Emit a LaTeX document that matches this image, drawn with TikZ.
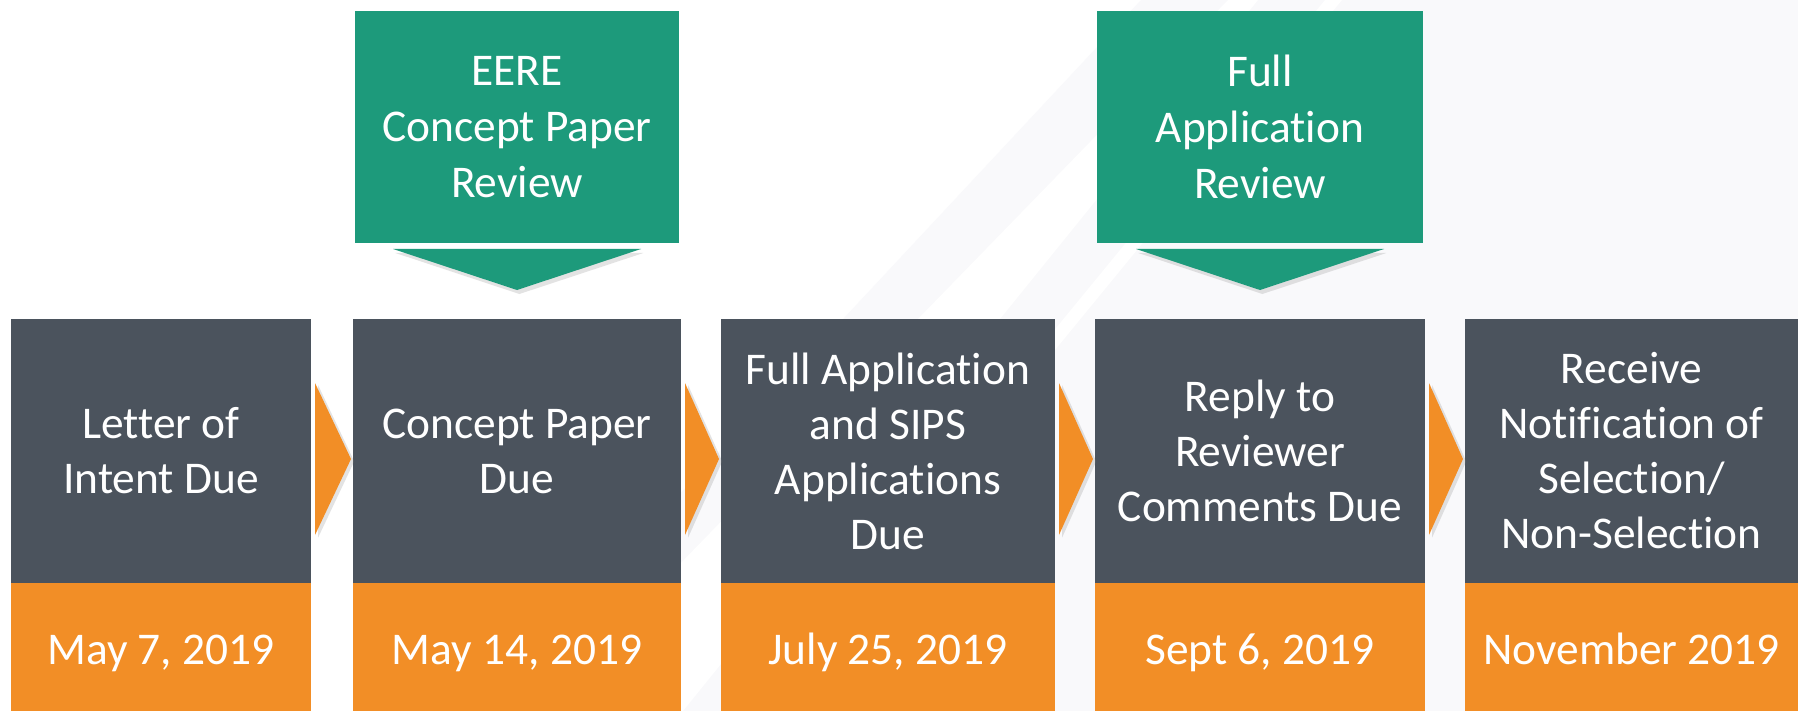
\documentclass[tikz,border=0pt]{standalone}
\usepackage{fontspec}
\setmainfont[RawFeature={-liga;-clig;-calt;-dlig}]{Carlito}
\usetikzlibrary{positioning,calc,shadows}
\definecolor{slate}{HTML}{4B535D}
\definecolor{amber}{HTML}{F28E26}
\definecolor{reviewgreen}{HTML}{1D9A7B}
\definecolor{bgstripe}{HTML}{F9F9FB}
\tikzset{
  boxtext/.style={text=white, inner sep=0pt, outer sep=0pt, align=center,
    font=\fontsize{22.7}{27.5}\selectfont},
  stage/.style={boxtext, fill=slate, minimum height=132pt},
  datebox/.style={boxtext, fill=amber, minimum height=64pt, text height=20pt, text depth=3pt},
  review/.style={boxtext, fill=reviewgreen, minimum height=116pt,
    font=\fontsize{22.7}{28}\selectfont},
  chev/.style={fill=amber, drop shadow={opacity=0.22, shadow xshift=1.6pt, shadow yshift=-1.2pt}},
  dchev/.style={fill=reviewgreen, drop shadow={opacity=0.22, shadow xshift=1.2pt, shadow yshift=-2pt}}
}

\begin{document}
\begin{tikzpicture}[x=0.5pt,y=-0.5pt]
\useasboundingbox (0,0) rectangle (1798,711);
% background stripes
\fill[white] (0,0) rectangle (1798,711);
\fill[bgstripe] (477,711) -- (1141,0) -- (1798,0) -- (1798,711) -- cycle;
\fill[white] (537,711) -- (1228,0) -- (1258,0) -- (683,711) -- cycle;
\fill[white] (742,711) -- (1325,0) -- (1342,0) -- (759,711) -- cycle;

% stages
\node[stage, minimum width=150pt]   (s1) at (161,451)    {Letter of\\Intent Due};
\node[stage, minimum width=164pt]   (s2) at (517,451)    {Concept Paper\\Due};
\node[stage, minimum width=167pt]   (s3) at (888,451)    {Full Application\\and SIPS\\Applications\\Due};
\node[stage, minimum width=165pt]   (s4) at (1260,451)   {Reply to\\Reviewer\\Comments Due};
\node[stage, minimum width=166.5pt] (s5) at (1631.5,451) {Receive\\Notification of\\Selection/\\Non-Selection};

% dates
\node[datebox, minimum width=150pt,   below=0pt of s1] (d1) {May 7, 2019};
\node[datebox, minimum width=164pt,   below=0pt of s2] (d2) {May 14, 2019};
\node[datebox, minimum width=167pt,   below=0pt of s3] (d3) {July 25, 2019};
\node[datebox, minimum width=165pt,   below=0pt of s4] (d4) {Sept 6, 2019};
\node[datebox, minimum width=166.5pt, below=0pt of s5] (d5) {November 2019};

% reviews
\node[review, minimum width=162pt, above=38pt of s2] (r1) {EERE\\Concept Paper\\Review};
\node[review, minimum width=163pt, above=38pt of s4] (r2) {Full\\Application\\Review};

% chevrons
\fill[chev] ($(s1.east)+(4,-68)$) -- ($(s2.west)+(-2,8)$) -- ($(s1.east)+(4,84)$) -- cycle;
\fill[chev] ($(s2.east)+(4,-68)$) -- ($(s3.west)+(-2,8)$) -- ($(s2.east)+(4,84)$) -- cycle;
\fill[chev] ($(s3.east)+(4,-68)$) -- ($(s4.west)+(-2,8)$) -- ($(s3.east)+(4,84)$) -- cycle;
\fill[chev] ($(s4.east)+(4,-68)$) -- ($(s5.west)+(-2,8)$) -- ($(s4.east)+(4,84)$) -- cycle;
\fill[dchev] ($(r1.south)+(-124,6)$) -- ($(r1.south)+(0,47)$) -- ($(r1.south)+(124,6)$) -- cycle;
\fill[dchev] ($(r2.south)+(-124,6)$) -- ($(r2.south)+(0,47)$) -- ($(r2.south)+(124,6)$) -- cycle;
\end{tikzpicture}
\end{document}
